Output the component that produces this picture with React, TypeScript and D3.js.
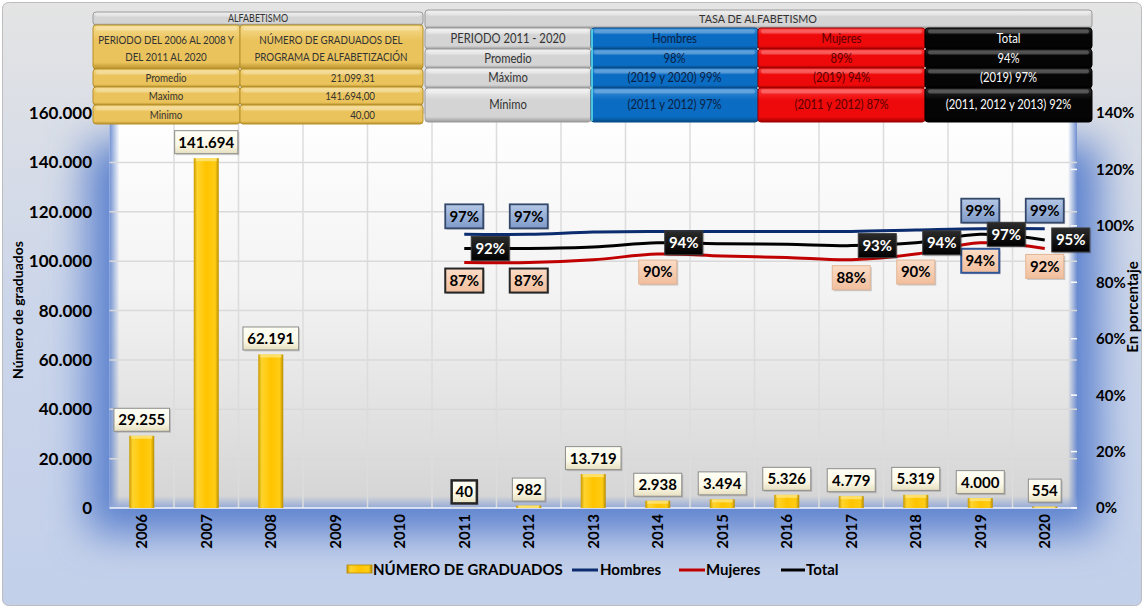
import * as d3 from 'd3';

// ---- data ----
const years = ['2006', '2007', '2008', '2009', '2010', '2011', '2012', '2013', '2014', '2015', '2016', '2017', '2018', '2019', '2020'];
const graduados: (number | null)[] = [29255, 141694, 62191, null, null, 40, 982, 13719, 2938, 3494, 5326, 4779, 5319, 4000, 554];

const rateYears = ['2011', '2012', '2013', '2014', '2015', '2016', '2017', '2018', '2019', '2020'];
const hombres = [97, 97, 97.8, 98, 98, 98, 98, 98.5, 99, 99];
const mujeres = [87, 87, 88, 90, 89.3, 88.8, 88, 90, 94, 92];
const total = [92, 92, 92.5, 94, 93.7, 93.5, 93, 94, 97, 95];

const hombresShown = ['2011', '2012', '2019', '2020'];
const mujeresShown = ['2011', '2012', '2014', '2017', '2018', '2019', '2020'];
const totalShown = ['2011', '2014', '2017', '2018', '2019', '2020'];

const leftTicks = [0, 20000, 40000, 60000, 80000, 100000, 120000, 140000, 160000];
const rightTicks = [0, 20, 40, 60, 80, 100, 120, 140];

const resumenEtiquetas = ['Promedio', 'Maximo', 'Minimo'];
const resumenGraduados = ['21.099,31', '141.694,00', '40,00'];
const tasaEtiquetas = ['Promedio', 'Máximo', 'Mínimo'];
const tasaHombres = ['98%', '(2019 y 2020) 99%', '(2011 y 2012) 97%'];
const tasaMujeres = ['89%', '(2019)  94%', '(2011 y 2012)  87%'];
const tasaTotal = ['94%', '(2019) 97%', '(2011, 2012 y 2013)  92%'];

// ---- styles ----
const FONT = 'Lato, "Open Sans", sans-serif';
const mujeresBorder: Record<string, string> = { '2011': '#262626', '2012': '#262626', '2019': '#2F5597' };

const W = 1144, H = 611;
const plot = { left: 109.5, right: 1077, top: 113, bottom: 508 };

const esLocale = d3.formatLocale({ decimal: ',', thousands: '.', grouping: [3], currency: ['', ''] });
const fmt = esLocale.format(',');

const x = d3.scaleBand<string>().domain(years).range([plot.left, plot.right]);
const y = d3.scaleLinear().domain([0, 160000]).range([plot.bottom, plot.top]);
const yR = d3.scaleLinear().domain([0, 140]).range([plot.bottom, plot.top]);
const bw = x.bandwidth();
const cx = (yr: string) => (x(yr) as number) + bw / 2;

const lineGen = d3.line<number>()
  .x((_, i) => cx(rateYears[i]))
  .y(d => yR(d))
  .curve(d3.curveCatmullRom.alpha(0.5));

const palettes: Record<string, [string, string, string]> = {
  gold: ['#F6DC8E', '#EAC35C', '#B8902A'],
  gray: ['#F2F2F2', '#D4D4D4', '#9A9A9A'],
  blue: ['#3D8FD8', '#0A6CC2', '#064A88'],
  red: ['#FF3B3B', '#EE0A0A', '#A00000'],
  black: ['#2A2A2A', '#050505', '#000000'],
};

function Cell({ x0, y0, w, h, pal }: { x0: number; y0: number; w: number; h: number; pal: string }) {
  return (
    <g>
      <rect x={x0} y={y0} width={w} height={h} rx={3} fill={`url(#cell-${pal})`} stroke={palettes[pal][2]} strokeWidth={1} />
      <rect x={x0 + 3} y={y0 + 1.5} width={w - 6} height={Math.min(4, h / 4)} rx={2} fill="#fff" opacity={0.25} />
    </g>
  );
}

function CellText({ x0, y0, txt, color, anchor = 'middle', size = 11.5, sx = 0.85 }: { x0: number; y0: number; txt: string; color: string; anchor?: string; size?: number; sx?: number }) {
  return (
    <text transform={`translate(${x0},${y0}) scale(${sx},1)`} dy="0.35em" textAnchor={anchor as any}
      fontFamily={FONT} fontSize={size} fill={color}>{txt}</text>
  );
}

function PctLabel({ px, py, txt, fill, stroke, sw, color }: { px: number; py: number; txt: string; fill: string; stroke: string; sw: number; color: string }) {
  const w = 38, h = 24;
  return (
    <g>
      <rect x={px - w / 2 + 1.5} y={py - h / 2 + 1.5} width={w} height={h} fill="#000" opacity={0.18} />
      <rect x={px - w / 2} y={py - h / 2} width={w} height={h} fill={fill} stroke={stroke} strokeWidth={sw} />
      <text x={px} y={py} dy="0.36em" textAnchor="middle" fontFamily={FONT} fontWeight={700} fontSize={15} fill={color}>{txt}</text>
    </g>
  );
}

export default function App() {
  const rowsL = [69, 87, 105, 124];
  const rowsR = [49, 68, 88, 122];
  const colsR = [425, 591, 758, 925, 1092];
  const rs = 12.5, rsx = 0.9;

  return (
    <svg width={W} height={H} style={{ position: 'absolute', left: 0, top: 0 }} xmlns="http://www.w3.org/2000/svg">
      <defs>
        <linearGradient id="bgGrad" x1="0" y1="0" x2="0" y2="1">
          <stop offset="0" stopColor="#E4E4E4" />
          <stop offset="0.5" stopColor="#CCD6EA" />
          <stop offset="1" stopColor="#C3D0EA" />
        </linearGradient>
        <linearGradient id="plotGrad" x1="0" y1="0" x2="0" y2="1">
          <stop offset="0" stopColor="#FFFFFF" />
          <stop offset="0.45" stopColor="#F3F3F3" />
          <stop offset="1" stopColor="#D4D4D4" />
        </linearGradient>
        <linearGradient id="edgeL" x1="0" y1="0" x2="1" y2="0">
          <stop offset="0" stopColor="#7392D3" stopOpacity={1} />
          <stop offset="1" stopColor="#7392D3" stopOpacity={0} />
        </linearGradient>
        <linearGradient id="edgeR" x1="0" y1="0" x2="1" y2="0">
          <stop offset="0" stopColor="#6F8FD0" stopOpacity={0} />
          <stop offset="1" stopColor="#6F8FD0" stopOpacity={1} />
        </linearGradient>
        <linearGradient id="edgeB" x1="0" y1="0" x2="0" y2="1">
          <stop offset="0" stopColor="#8EA6D8" stopOpacity={0} />
          <stop offset="1" stopColor="#8EA6D8" stopOpacity={0.9} />
        </linearGradient>
        <linearGradient id="barGrad" x1="0" y1="0" x2="1" y2="0">
          <stop offset="0" stopColor="#C99A00" />
          <stop offset="0.14" stopColor="#FFD42E" />
          <stop offset="0.5" stopColor="#FFC400" />
          <stop offset="0.86" stopColor="#FFCC14" />
          <stop offset="1" stopColor="#B88C00" />
        </linearGradient>
        <linearGradient id="boxGrad" x1="0" y1="0" x2="0" y2="1">
          <stop offset="0" stopColor="#FFFFF6" />
          <stop offset="0.6" stopColor="#FBF8E6" />
          <stop offset="1" stopColor="#E6DFC0" />
        </linearGradient>
        <linearGradient id="hGrad" x1="0" y1="0" x2="0" y2="1">
          <stop offset="0" stopColor="#B4C7E6" />
          <stop offset="1" stopColor="#7F9BC9" />
        </linearGradient>
        <linearGradient id="mGrad" x1="0" y1="0" x2="0" y2="1">
          <stop offset="0" stopColor="#FBDCC6" />
          <stop offset="1" stopColor="#F1BE9C" />
        </linearGradient>
        <linearGradient id="tGrad" x1="0" y1="0" x2="0" y2="1">
          <stop offset="0" stopColor="#2B2B2B" />
          <stop offset="1" stopColor="#000000" />
        </linearGradient>
        {Object.entries(palettes).map(([k, [l, b, dk]]) => (
          <linearGradient key={k} id={`cell-${k}`} x1="0" y1="0" x2="0" y2="1">
            <stop offset="0" stopColor={l} />
            <stop offset="0.35" stopColor={b} />
            <stop offset="0.85" stopColor={b} />
            <stop offset="1" stopColor={dk} />
          </linearGradient>
        ))}
        <filter id="glow" x="-20%" y="-30%" width="140%" height="160%">
          <feGaussianBlur stdDeviation="20" />
        </filter>
      </defs>

      {/* chart background */}
      <rect x={2.5} y={2.5} width={W - 5} height={H - 8} rx={6} fill="url(#bgGrad)" stroke="#BDBDBD" />
      <rect x={plot.left - 22} y={plot.top + 30} width={plot.right - plot.left + 44} height={plot.bottom - plot.top - 5}
        fill="#5A80CE" filter="url(#glow)" opacity={1} />

      {/* plot area */}
      <rect x={plot.left} y={plot.top} width={plot.right - plot.left} height={plot.bottom - plot.top} fill="url(#plotGrad)" />
      <rect x={plot.left} y={plot.top} width={10} height={plot.bottom - plot.top} fill="url(#edgeL)" />
      <rect x={plot.right - 9} y={plot.top} width={9} height={plot.bottom - plot.top} fill="url(#edgeR)" />
      <rect x={plot.left} y={plot.bottom - 12} width={plot.right - plot.left} height={12} fill="url(#edgeB)" />

      {/* gridlines */}
      {leftTicks.slice(1).map(t => (
        <line key={t} x1={plot.left} x2={plot.right} y1={y(t)} y2={y(t)} stroke="#D9D9D9" strokeWidth={1.5} />
      ))}
      {years.slice(1).map(yr => (
        <line key={yr} x1={x(yr)} x2={x(yr)} y1={plot.top} y2={plot.bottom} stroke="#DCDCDC" strokeWidth={1.5} />
      ))}
      <line x1={plot.left} x2={plot.right} y1={plot.bottom} y2={plot.bottom} stroke="#F4F6FB" strokeWidth={1.5} />
      {rightTicks.map(t => (
        <line key={t} x1={plot.right - 6} x2={plot.right} y1={yR(t)} y2={yR(t)} stroke="#FFFFFF" strokeWidth={1.5} />
      ))}

      {/* bars */}
      {years.map((yr, i) => {
        const v = graduados[i];
        if (v == null) return null;
        const bx = cx(yr) - 12.5;
        const top = y(v);
        return (
          <g key={yr}>
            <rect x={bx} y={top} width={25} height={plot.bottom - top} fill="url(#barGrad)" />
            <rect x={bx + 2} y={top} width={21} height={Math.min(3, plot.bottom - top)} fill="#FFE680" opacity={0.8} />
          </g>
        );
      })}

      {/* lines */}
      <path d={lineGen(hombres) as string} fill="none" stroke="#0B2C6E" strokeWidth={3} />
      <path d={lineGen(mujeres) as string} fill="none" stroke="#C00000" strokeWidth={3} />
      <path d={lineGen(total) as string} fill="none" stroke="#000000" strokeWidth={3} />

      {/* bar labels */}
      {years.map((yr, i) => {
        const v = graduados[i];
        if (v == null) return null;
        const txt = fmt(v);
        const w = txt.length * 7.6 + 10, h = 23;
        const px = cx(yr), py = y(v) - 16;
        const strong = v < 100;
        return (
          <g key={yr}>
            <rect x={px - w / 2 + 1.5} y={py - h / 2 + 1.5} width={w} height={h} fill="#000" opacity={0.15} />
            <rect x={px - w / 2} y={py - h / 2} width={w} height={h} fill="url(#boxGrad)"
              stroke={strong ? '#262626' : '#8C8C8C'} strokeWidth={strong ? 2.5 : 1} />
            <text x={px} y={py} dy="0.36em" textAnchor="middle" fontFamily={FONT} fontWeight={700} fontSize={15} fill="#000">{txt}</text>
          </g>
        );
      })}

      {/* line labels */}
      {rateYears.map((yr, i) => hombresShown.includes(yr) ? (
        <PctLabel key={'h' + yr} px={cx(yr)} py={yR(hombres[i]) - 18} txt={`${Math.round(hombres[i])}%`}
          fill="url(#hGrad)" stroke="#34486B" sw={1.8} color="#000" />
      ) : null)}
      {rateYears.map((yr, i) => mujeresShown.includes(yr) ? (
        <PctLabel key={'m' + yr} px={cx(yr)} py={yR(mujeres[i]) + 18} txt={`${Math.round(mujeres[i])}%`}
          fill="url(#mGrad)" stroke={mujeresBorder[yr] ?? '#E2B595'} sw={mujeresBorder[yr] ? 2 : 1} color="#000" />
      ) : null)}
      {rateYears.map((yr, i) => totalShown.includes(yr) ? (
        <PctLabel key={'t' + yr} px={cx(yr) + 26} py={yR(total[i])} txt={`${Math.round(total[i])}%`}
          fill="url(#tGrad)" stroke="#3A3A3A" sw={1} color="#FFF" />
      ) : null)}

      {/* axes labels */}
      {leftTicks.map(t => (
        <text key={t} x={92} y={y(t)} dy="0.36em" textAnchor="end" fontFamily={FONT} fontWeight={700} fontSize={17} fill="#000">{fmt(t)}</text>
      ))}
      {rightTicks.map(t => (
        <text key={t} x={1096} y={yR(t)} dy="0.36em" textAnchor="start" fontFamily={FONT} fontWeight={700} fontSize={15} fill="#000">{t}%</text>
      ))}
      {years.map(yr => (
        <text key={yr} transform={`translate(${cx(yr)},514) rotate(-90)`} dy="0.36em" textAnchor="end"
          fontFamily={FONT} fontWeight={700} fontSize={15} fill="#000">{yr}</text>
      ))}
      <text transform="translate(23,310) rotate(-90)" textAnchor="middle" fontFamily={FONT} fontWeight={700} fontSize={14} fill="#000">Número de graduados</text>
      <text transform="translate(1138,307) rotate(-90)" textAnchor="middle" fontFamily={FONT} fontWeight={700} fontSize={15} fill="#000">En porcentaje</text>

      {/* legend */}
      <g fontFamily={FONT} fontWeight={700} fontSize={15} fill="#000">
        <rect x={347} y={565} width={25} height={8} fill="url(#barGrad)" stroke="#B88C00" strokeWidth={0.8} />
        <text x={373} y={575}>NÚMERO DE GRADUADOS</text>
        <line x1={572} x2={598} y1={570} y2={570} stroke="#0B2C6E" strokeWidth={3} />
        <text x={600} y={575}>Hombres</text>
        <line x1={679} x2={705} y1={570} y2={570} stroke="#C00000" strokeWidth={3} />
        <text x={706} y={575}>Mujeres</text>
        <line x1={781} x2={805} y1={570} y2={570} stroke="#000" strokeWidth={3} />
        <text x={806} y={575}>Total</text>
      </g>

      {/* left table */}
      <Cell x0={93} y0={12} w={330} h={13} pal="gray" />
      <CellText x0={258} y0={18.5} txt="ALFABETISMO" color="#333" size={10.5} />
      <Cell x0={93} y0={25} w={147} h={44} pal="gold" />
      <Cell x0={240} y0={25} w={183} h={44} pal="gold" />
      <CellText x0={166} y0={40} txt="PERIODO DEL 2006 AL 2008 Y" color="#333" />
      <CellText x0={166} y0={57} txt="DEL 2011 AL 2020" color="#333" />
      <CellText x0={331} y0={40} txt="NÚMERO DE GRADUADOS DEL" color="#333" />
      <CellText x0={331} y0={57} txt="PROGRAMA DE ALFABETIZACIÓN" color="#333" />
      {resumenEtiquetas.map((lab, i) => (
        <g key={lab}>
          <Cell x0={93} y0={rowsL[i]} w={147} h={rowsL[i + 1] - rowsL[i]} pal="gold" />
          <Cell x0={240} y0={rowsL[i]} w={183} h={rowsL[i + 1] - rowsL[i]} pal="gold" />
          <CellText x0={166} y0={(rowsL[i] + rowsL[i + 1]) / 2} txt={lab} color="#333" />
          <CellText x0={375} y0={(rowsL[i] + rowsL[i + 1]) / 2} txt={resumenGraduados[i]} color="#333" anchor="end" />
        </g>
      ))}

      {/* right table */}
      <Cell x0={425} y0={10} w={667} h={18} pal="gray" />
      <CellText x0={758} y0={19} txt="TASA DE ALFABETISMO" color="#333" size={12} sx={rsx} />
      <Cell x0={colsR[0]} y0={28} w={colsR[1] - colsR[0]} h={21} pal="gray" />
      <Cell x0={colsR[1]} y0={28} w={colsR[2] - colsR[1]} h={21} pal="blue" />
      <Cell x0={colsR[2]} y0={28} w={colsR[3] - colsR[2]} h={21} pal="red" />
      <Cell x0={colsR[3]} y0={28} w={colsR[4] - colsR[3]} h={21} pal="black" />
      <CellText x0={(colsR[0] + colsR[1]) / 2} y0={39} txt="PERIODO 2011 - 2020" color="#333" size={rs} sx={rsx} />
      <CellText x0={(colsR[1] + colsR[2]) / 2} y0={39} txt="Hombres" color="#0B1F45" size={rs} sx={rsx} />
      <CellText x0={(colsR[2] + colsR[3]) / 2} y0={39} txt="Mujeres" color="#5A0000" size={rs} sx={rsx} />
      <CellText x0={(colsR[3] + colsR[4]) / 2} y0={39} txt="Total" color="#FFFFFF" size={rs} sx={rsx} />
      {tasaEtiquetas.map((lab, i) => {
        const y0 = rowsR[i], h = rowsR[i + 1] - rowsR[i], ym = y0 + h / 2;
        return (
          <g key={lab}>
            <Cell x0={colsR[0]} y0={y0} w={colsR[1] - colsR[0]} h={h} pal="gray" />
            <Cell x0={colsR[1]} y0={y0} w={colsR[2] - colsR[1]} h={h} pal="blue" />
            <Cell x0={colsR[2]} y0={y0} w={colsR[3] - colsR[2]} h={h} pal="red" />
            <Cell x0={colsR[3]} y0={y0} w={colsR[4] - colsR[3]} h={h} pal="black" />
            <CellText x0={(colsR[0] + colsR[1]) / 2} y0={ym} txt={lab} color="#333" size={rs} sx={rsx} />
            <CellText x0={(colsR[1] + colsR[2]) / 2} y0={ym} txt={tasaHombres[i]} color="#0B1F45" size={rs} sx={rsx} />
            <CellText x0={(colsR[2] + colsR[3]) / 2} y0={ym} txt={tasaMujeres[i]} color="#5A0000" size={rs} sx={rsx} />
            <CellText x0={(colsR[3] + colsR[4]) / 2} y0={ym} txt={tasaTotal[i]} color="#FFFFFF" size={rs} sx={rsx} />
          </g>
        );
      })}
      <line x1={colsR[1] + 1} x2={colsR[1] + 1} y1={29} y2={121} stroke="#5FE6F0" strokeWidth={1.5} />
    </svg>
  );
}
